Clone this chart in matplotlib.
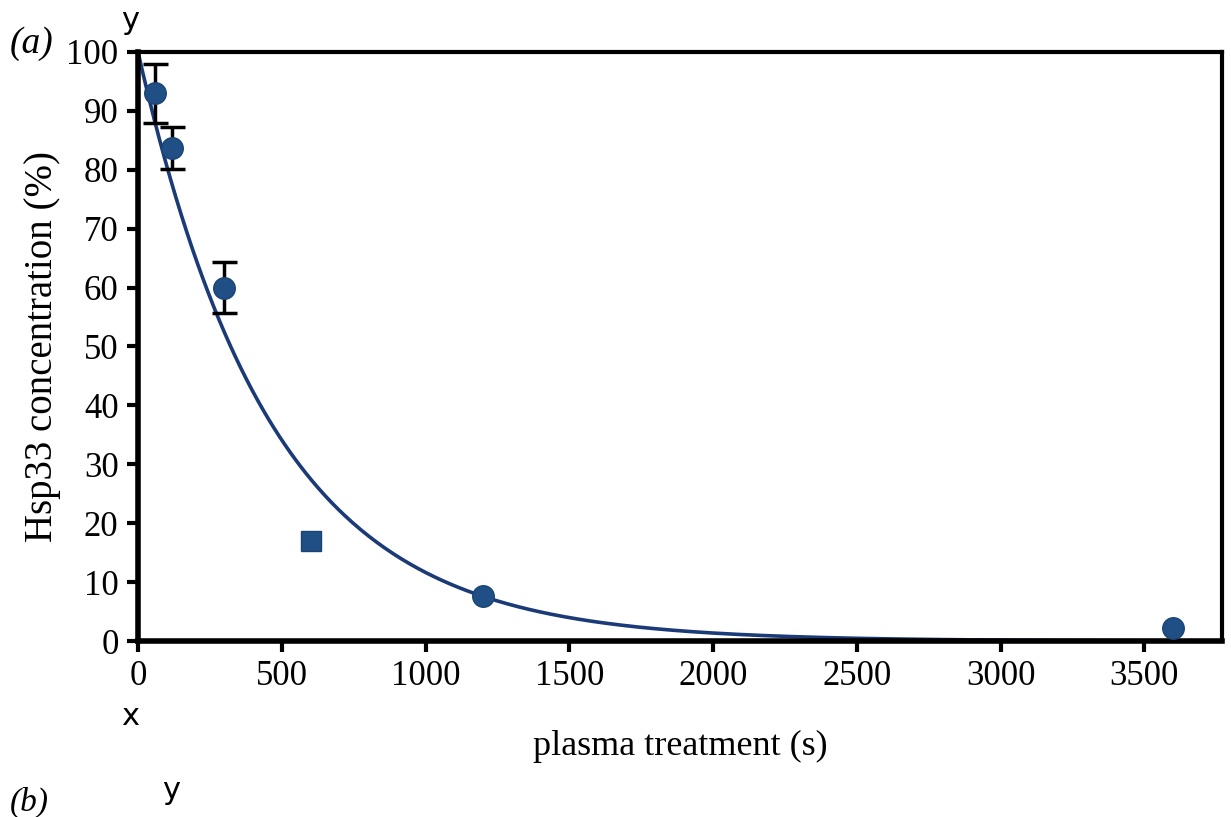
import numpy as np
import matplotlib.pyplot as plt

# measured points
time_s = [60, 120, 300, 600, 1200, 3600]
conc = [93, 83.7, 60, 17, 7.6, 2.2]
err = [5, 3.5, 4.3, 0, 0, 0]
marker = ['o', 'o', 'o', 's', 'o', 'o']

# exponential fit
fit_a = 100
fit_tau = 465

xticks = [0, 500, 1000, 1500, 2000, 2500, 3000, 3500]
yticks = [0, 10, 20, 30, 40, 50, 60, 70, 80, 90, 100]


def main():
    plt.rcParams['font.family'] = ['Liberation Serif', 'DejaVu Serif']
    fig = plt.figure(figsize=(12.31, 8.17), dpi=100)
    ax = fig.add_axes([0.1121, 0.2154, 0.8806, 0.721])

    xs = np.linspace(0, 3770, 400)
    ax.plot(xs, fit_a * np.exp(-xs / fit_tau), color='#1b3a78', lw=2.6, zorder=2)

    x = np.array(time_s)
    y = np.array(conc)
    e = np.array(err)
    m = e > 0
    ax.errorbar(x[m], y[m], yerr=e[m], fmt='none', ecolor='black',
                elinewidth=2.5, capsize=9, capthick=2.5, zorder=3)
    for xi, yi, mk in zip(time_s, conc, marker):
        ax.plot(xi, yi, marker=mk, ms=15.5 if mk == 'o' else 14, color='#1f4f84',
                mec='#1a4475', ls='none', zorder=4)

    ax.set_xlim(0, 3770)
    ax.set_ylim(0, 100)
    ax.set_xticks(xticks)
    ax.set_yticks(yticks)
    ax.tick_params(labelsize=25, width=3, length=8, direction='out', pad=6)
    for s in ['left', 'bottom']:
        ax.spines[s].set_linewidth(4)
    for s in ['top', 'right']:
        ax.spines[s].set_linewidth(3)

    ax.set_ylabel('Hsp33 concentration (%)', fontsize=28, labelpad=4)
    ax.set_xlabel('plasma treatment (s)', fontsize=26, labelpad=26)

    fig.text(0.008, 0.935, '(a)', fontsize=27, fontstyle='italic')
    fig.text(0.098, 0.965, 'y', fontsize=22, family='DejaVu Sans')
    fig.text(0.098, 0.112, 'x', fontsize=22, family='DejaVu Sans')
    fig.text(0.008, 0.008, '(b)', fontsize=24, fontstyle='italic')
    fig.text(0.132, 0.022, 'y', fontsize=22, family='DejaVu Sans')

    fig.savefig('out.png', dpi=100)


if __name__ == '__main__':
    main()
